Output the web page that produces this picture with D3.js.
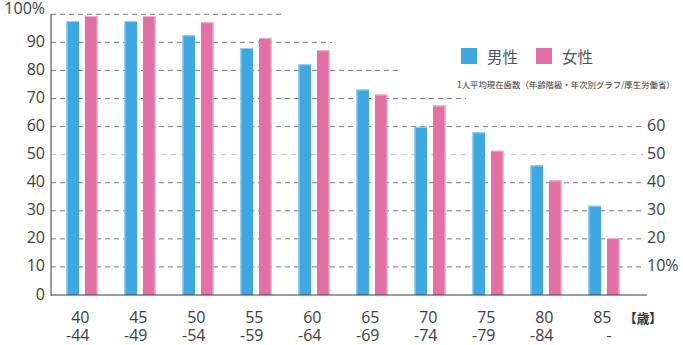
<!DOCTYPE html>
<html><head><meta charset="utf-8">
<script src="https://cdn.jsdelivr.net/npm/d3@7"></script>
<style>
body{margin:0;background:#fff;}
svg{display:block;}
</style></head>
<body><svg id="c" width="683" height="345"></svg>
<script>
const categories = ["40-44","45-49","50-54","55-59","60-64","65-69","70-74","75-79","80-84","85-"];
const catLine1 = ["40","45","50","55","60","65","70","75","80","85"];
const catLine2 = ["-44","-49","-54","-59","-64","-69","-74","-79","-84","-"];
const male   = [97.6, 97.6, 92.5, 88.0, 82.2, 73.2, 59.9, 58.0, 46.2, 31.8];
const female = [99.4, 99.4, 97.2, 91.6, 87.2, 71.4, 67.5, 51.4, 40.8, 20.3];
const leftTicks = [0,10,20,30,40,50,60,70,80,90,100];
const leftTickLabels = ["0","10","20","30","40","50","60","70","80","90","100%"];
const rightTicks = [10,20,30,40,50,60];
const rightTickLabels = ["10%","20","30","40","50","60"];
const seriesNames = ["男性","女性"];
const note = "1人平均現在歯数（年齢階級・年次別グラフ/厚生労働省）";
const unitLabel = "【歳】";

// layout / style
const colors = {"男性":"#40a8e0","女性":"#e371a5"};
const edge = {"男性":"#9fd0ee","女性":"#f2b3cf"};
const gridEnd = {100:283, 90:332, 80:399, 70:466};
const gridEndDefault = 643;

const svg = d3.select("#c");
const y = d3.scaleLinear().domain([0,100]).range([295,14.3]);
const x = d3.scaleBand().domain(categories).range([53,633]).padding(0);
const xs = d3.scaleBand().domain(seriesNames).range([-15.5,15.5]).paddingInner(0.324).paddingOuter(0);

// gridlines
svg.append("g").selectAll("line").data(leftTicks.filter(t=>t>0)).join("line")
  .attr("x1",51).attr("x2",t=>gridEnd[t]||gridEndDefault)
  .attr("y1",t=>y(t)).attr("y2",t=>y(t))
  .attr("stroke",t=>t===50?"#c4c4c4":"#7a7a7a")
  .attr("stroke-width",1)
  .attr("stroke-dasharray",t=>t===50?"5,5":"5,4");

// bars
const rows = categories.map((c,i)=>({cat:c, vals:[{s:"男性",v:male[i]},{s:"女性",v:female[i]}]}));
const g = svg.append("g").selectAll("g").data(rows).join("g")
  .attr("transform",d=>`translate(${x(d.cat)+x.bandwidth()/2},0)`);
g.selectAll("rect").data(d=>d.vals).join("rect")
  .attr("x",d=>xs(d.s)).attr("width",xs.bandwidth())
  .attr("y",d=>y(d.v)).attr("height",d=>y(0)-y(d.v))
  .attr("fill",d=>colors[d.s]);
g.selectAll("line.edge").data(d=>d.vals).join("line").attr("class","edge")
  .attr("x1",d=>d.s==="男性"?xs(d.s)+0.5:xs(d.s)+xs.bandwidth()-0.5)
  .attr("x2",d=>d.s==="男性"?xs(d.s)+0.5:xs(d.s)+xs.bandwidth()-0.5)
  .attr("y1",d=>y(d.v)).attr("y2",y(0))
  .attr("stroke",d=>edge[d.s]).attr("stroke-width",1);
g.selectAll("line.top").data(d=>d.vals).join("line").attr("class","top")
  .attr("x1",d=>xs(d.s)).attr("x2",d=>xs(d.s)+xs.bandwidth())
  .attr("y1",d=>y(d.v)+0.5).attr("y2",d=>y(d.v)+0.5)
  .attr("stroke",d=>edge[d.s]).attr("stroke-width",1);

// axes lines
svg.append("line").attr("x1",51).attr("x2",51).attr("y1",y(100)).attr("y2",y(0)+0.5)
  .attr("stroke","#3a3a3a").attr("stroke-width",1);
svg.append("line").attr("x1",51).attr("x2",647).attr("y1",y(0)).attr("y2",y(0))
  .attr("stroke","#3a3a3a").attr("stroke-width",1.2);

const font = "'Open Sans', sans-serif";
// left labels
svg.append("g").selectAll("text").data(leftTicks).join("text")
  .attr("x",45).attr("y",(t)=>t===100?13.5:y(t)+4.5)
  .attr("text-anchor","end").attr("font-family",font).attr("font-size",16)
  .attr("fill","#404040").text((t,i)=>leftTickLabels[i]);
// right labels
svg.append("g").selectAll("text").data(rightTicks).join("text")
  .attr("x",647).attr("y",t=>y(t)+4.5)
  .attr("text-anchor","start").attr("font-family",font).attr("font-size",16)
  .attr("fill","#404040").text((t,i)=>rightTickLabels[i]);

// x labels
const xl = svg.append("g").selectAll("text").data(categories).join("text")
  .attr("text-anchor","end").attr("font-family",font).attr("font-size",16).attr("fill","#404040");
xl.append("tspan").attr("x",c=>x(c)+x.bandwidth()/2+7.5).attr("y",322.5).text((c,i)=>catLine1[i]);
xl.append("tspan").attr("x",c=>x(c)+x.bandwidth()/2+7.5).attr("y",341).text((c,i)=>catLine2[i]);

function fitText(sel, target){
  const w = sel.node().getComputedTextLength();
  const fs = +sel.attr("font-size");
  if (w>0) sel.attr("font-size", fs*target/w);
}

const unit = svg.append("text").attr("x",624).attr("y",322.5)
  .attr("font-family","'Noto Sans CJK JP', sans-serif").attr("font-size",16).attr("font-weight","bold")
  .attr("fill","#333").text(unitLabel);
fitText(unit, 38);

// legend
const lg = svg.append("g").selectAll("g").data(seriesNames).join("g")
  .attr("transform",(d,i)=>`translate(${461+i*75},48)`);
lg.append("rect").attr("width",16).attr("height",16).attr("fill",d=>colors[d]);
lg.append("text").attr("x",26).attr("y",14.5)
  .attr("font-family","'Noto Sans CJK JP', sans-serif").attr("font-size",15.5)
  .attr("fill","#555").text(d=>d);

const nt = svg.append("text").attr("x",457).attr("y",88)
  .attr("font-family","'Noto Sans CJK JP', sans-serif").attr("font-size",8.5)
  .attr("fill","#333").text(note);
fitText(nt, 218);
</script></body></html>
